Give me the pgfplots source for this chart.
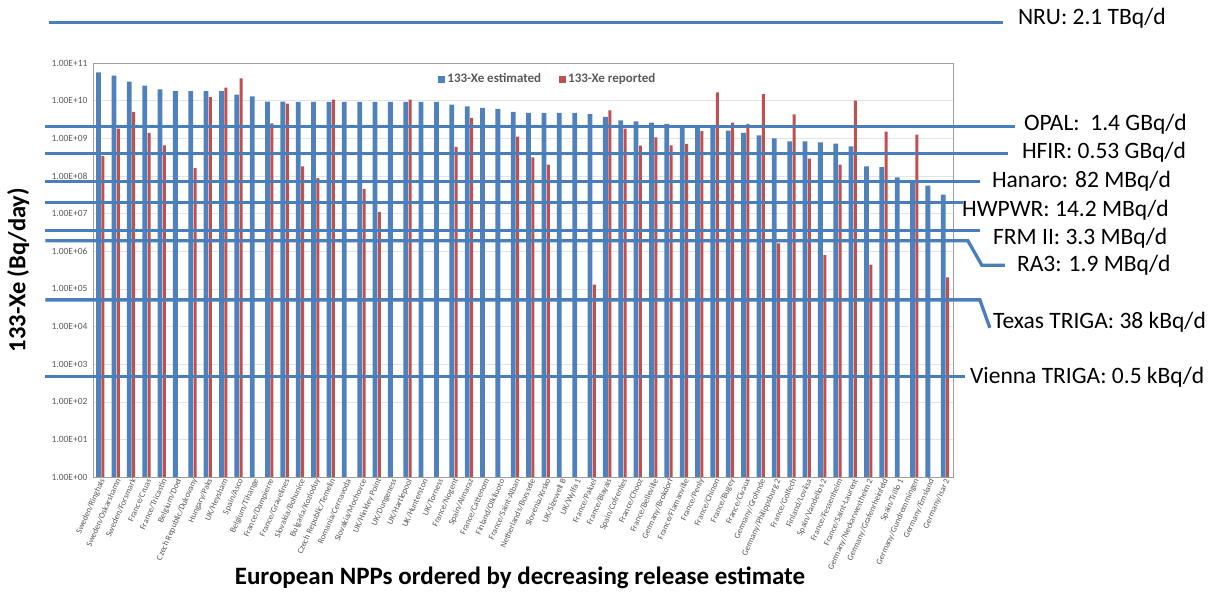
\documentclass[border=0pt]{standalone}
\usepackage{fontspec}
\setmainfont{Carlito}
\usepackage{pgfplots}
\pgfplotsset{compat=1.18}
\definecolor{barblue}{HTML}{4F81BD}
\definecolor{barred}{HTML}{C0504D}
\definecolor{lineblue}{HTML}{4A7EBB}
\definecolor{txtgray}{HTML}{595959}
\begin{document}
\begin{tikzpicture}
\useasboundingbox (0pt,0pt) rectangle (1218pt,599pt);
\begin{axis}[
  at={(93pt,122pt)}, anchor=south west,
  scale only axis, width=860pt, height=414pt,
  ymode=log, ymin=1, ymax=1e11,
  xmin=0.5, xmax=56.5,
  clip=false,
  axis line style={draw=gray!75},
  ymajorgrids, major grid style={draw=gray!22},
  major tick length=0pt, yminorticks=false,
  ytick={1,10,100,1000,10000,1e5,1e6,1e7,1e8,1e9,1e10,1e11},
  yticklabels={1.00E+00,1.00E+01,1.00E+02,1.00E+03,1.00E+04,1.00E+05,1.00E+06,1.00E+07,1.00E+08,1.00E+09,1.00E+10,1.00E+11},
  yticklabel style={font=\fontsize{9.5}{10}\selectfont, text=txtgray, xshift=-2pt},
  xtick={1,...,56},
  xticklabels={Sweden/Ringhals,Sweden/Oskarshamn,Sweden/Forsmark,France/Cruas,France/Tricastin,Belgium/Doel,Czech Republic/Dukovany,Hungary/Paks,UK/Heysham,Spain/Asco,Belgium/Tihange,France/Dampierre,France/Gravelines,Slovakia/Bohunice,Bulgaria/Kozloduy,Czech Republic/Temelin,Romania/Cernavoda,Slovakia/Mochovce,UK/Hinkley Point,UK/Dungeness,UK/Hartlepool,UK/Hunterston,UK/Torness,France/Nogent,Spain/Almaraz,France/Cattenom,Finland/Olkiluoto,France/Saint-Alban,Netherlands/Borssele,Slovenia/Krsko,UK/Sizewell B,UK/Wylfa 1,France/Paluel,France/Blayais,Spain/Cofrentes,France/Chooz,France/Belleville,Germany/Brokdorf,France/Flamanville,France/Penly,France/Chinon,France/Bugey,France/Civaux,Germany/Grohnde,Germany/Philippsburg 2,France/Golfech,Finland/Loviisa,Spain/Vandellos 2,France/Fessenheim,France/Saint-Laurent,Germany/Neckarwestheim 2,Germany/Grafenrheinfeld,Spain/Trillo 1,Germany/Gundremmingen,Germany/Emsland,Germany/Isar 2},
  xticklabel style={rotate=66, anchor=east, font=\fontsize{8.5}{9}\selectfont, text=txtgray, inner sep=1pt, yshift=-3pt},
  xlabel={\bfseries European NPPs ordered by decreasing release estimate},
  xlabel style={at={(axis description cs:0.4965,-0.244)}, anchor=center, font=\fontsize{25}{28}\selectfont},
  ylabel={\bfseries 133-Xe (Bq/day)},
  ylabel style={at={(axis description cs:-0.087,0.5)}, anchor=center, font=\fontsize{24.5}{28}\selectfont},
  legend style={at={(0.529,0.961)}, anchor=center, draw=none, fill=none, legend columns=2,
    font=\fontsize{13}{14}\selectfont\bfseries, text=txtgray,
    /tikz/every even column/.append style={column sep=16pt}},
  legend image code/.code={\fill[#1, draw=none] (0pt,-3.5pt) rectangle (7pt,3.5pt);},
]
\addplot[ybar, bar width=4.8pt, bar shift=-2.1pt, fill=barblue, draw=none] coordinates {
(1,5.6e10) (2,4.6e10) (3,3.2e10) (4,2.5e10) (5,2.0e10) (6,1.8e10) (7,1.8e10) (8,1.8e10)
(9,1.8e10) (10,1.45e10) (11,1.3e10) (12,9.4e9) (13,9.4e9) (14,9.2e9) (15,9.2e9) (16,9.2e9)
(17,9.2e9) (18,9.2e9) (19,9.2e9) (20,9.2e9) (21,9.2e9) (22,9.2e9) (23,9.2e9) (24,7.8e9)
(25,7.0e9) (26,6.4e9) (27,6.0e9) (28,5.0e9) (29,4.7e9) (30,4.7e9) (31,4.7e9) (32,4.7e9)
(33,4.4e9) (34,3.7e9) (35,3.0e9) (36,2.8e9) (37,2.6e9) (38,2.4e9) (39,2.2e9) (40,2.0e9)
(41,1.9e9) (42,1.6e9) (43,1.4e9) (44,1.2e9) (45,1.0e9) (46,8.3e8) (47,8.3e8) (48,7.8e8)
(49,7.2e8) (50,6.1e8) (51,1.8e8) (52,1.7e8) (53,9.1e7) (54,6.7e7) (55,5.5e7) (56,3.2e7)
};
\addlegendentry{133-Xe estimated}
\addplot[ybar, bar width=3pt, bar shift=2.3pt, fill=barred, draw=none] coordinates {
(1,3.4e8) (2,1.8e9) (3,5.0e9) (4,1.4e9) (5,6.5e8) (7,1.6e8) (8,1.23e10) (9,2.2e10)
(10,3.9e10) (12,2.5e9) (13,8.3e9) (14,1.8e8) (15,8.7e7) (16,1.07e10) (18,4.5e7) (19,1.1e7)
(21,1.07e10) (24,5.9e8) (25,3.5e9) (28,1.1e9) (29,3.1e8) (30,2.0e8) (33,1.3e5) (34,5.5e9)
(35,1.8e9) (36,6.4e8) (37,1.05e9) (38,6.5e8) (39,7.1e8) (40,1.55e9) (41,1.66e10) (42,2.6e9)
(43,2.4e9) (44,1.5e10) (45,1.6e6) (46,4.3e9) (47,2.9e8) (48,7.8e5) (49,2.0e8) (50,1.0e10)
(51,4.4e5) (52,1.5e9) (54,1.25e9) (56,2.0e5)
};
\addlegendentry{133-Xe reported}
% reference facilities (daily releases)
\begin{scope}[lineblue, line width=3.3pt]
\draw (axis cs:-2.35,1.175e12) -- (axis cs:59.74,1.175e12);
\draw (axis cs:-2.6,2.04e9) -- (axis cs:60.53,2.04e9);
\draw (axis cs:-2.6,4.02e8) -- (axis cs:60.07,4.02e8);
\draw (axis cs:-2.6,7.14e7) -- (axis cs:58.25,7.14e7);
\draw (axis cs:-2.6,2.0e7) -- (axis cs:57.14,2.0e7);
\draw (axis cs:-2.6,3.56e6) -- (axis cs:58.25,3.56e6);
\draw (axis cs:-2.6,1.89e6) -- (axis cs:57.47,1.89e6) -- (axis cs:58.38,4.22e5) -- (axis cs:59.87,4.22e5);
\draw (axis cs:-2.6,5.09e4) -- (axis cs:58.25,5.09e4) -- (axis cs:58.9,9.18e3);
\draw (axis cs:-2.6,466) -- (axis cs:57.27,466);
\end{scope}
\begin{scope}[every node/.style={anchor=west, inner sep=0pt, font=\fontsize{23.5}{27}\selectfont}]
\node at (axis cs:60.72,1.55e12) {NRU: 2.1 TBq/d};
\node at (axis cs:61.11,2.3e9) {OPAL:\ \ 1.4 GBq/d};
\node at (axis cs:60.98,4.14e8) {HFIR: 0.53 GBq/d};
\node at (axis cs:59.03,7.14e7) {Hanaro: 82 MBq/d};
\node at (axis cs:57.08,1.26e7) {HWPWR: 14.2 MBq/d};
\node at (axis cs:59.1,2.27e6) {FRM II: 3.3 MBq/d};
\node at (axis cs:60.66,4.35e5) {RA3: 1.9 MBq/d};
\node at (axis cs:59.1,1.32e4) {Texas TRIGA: 38 kBq/d};
\node at (axis cs:57.6,457) {Vienna TRIGA: 0.5 kBq/d};
\end{scope}
\end{axis}
\end{tikzpicture}
\end{document}
